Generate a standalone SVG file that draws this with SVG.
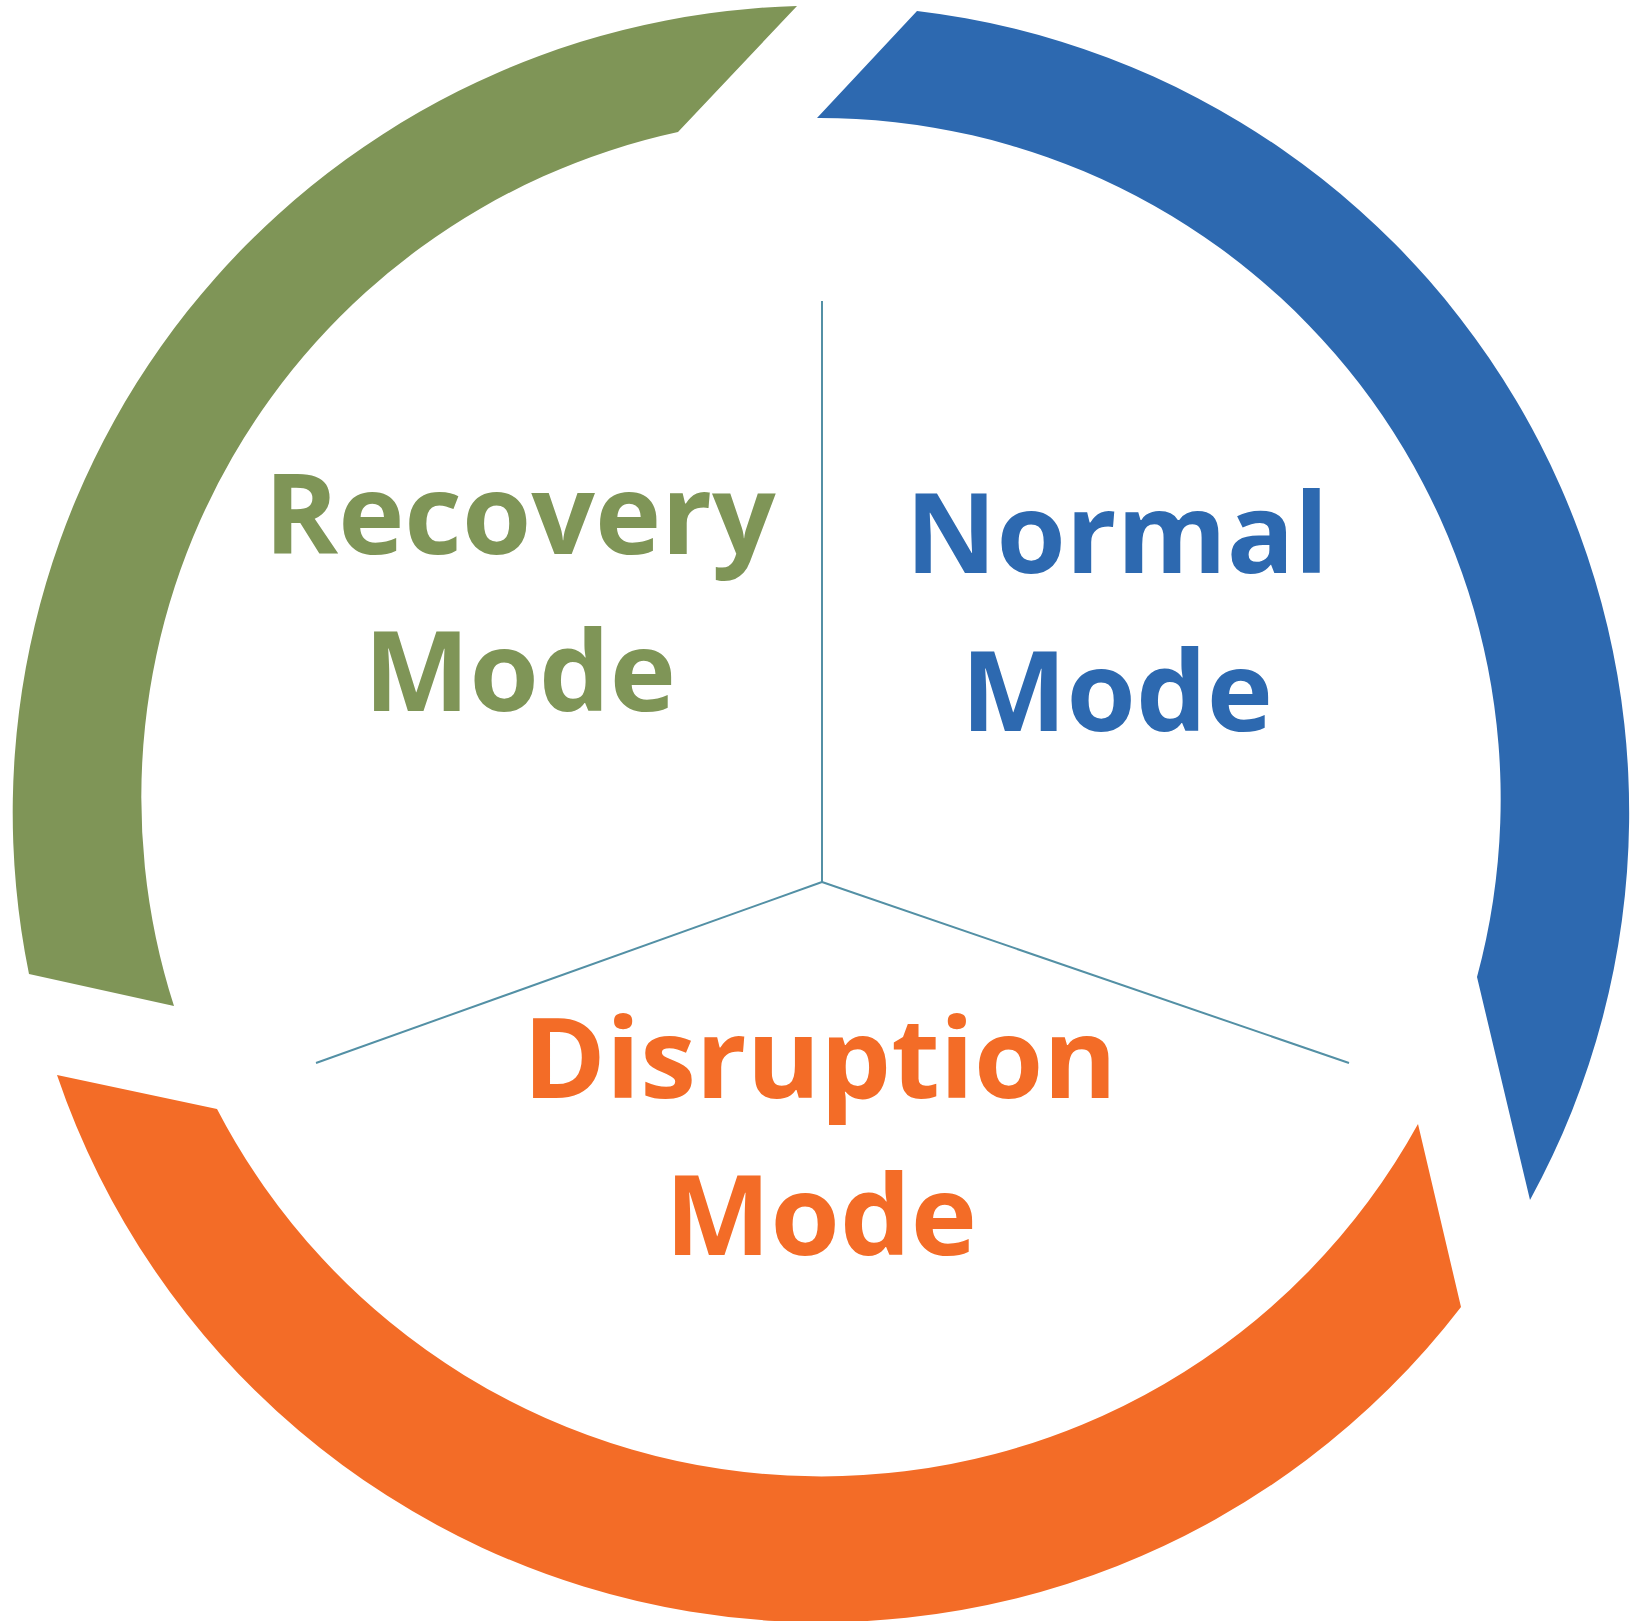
<svg xmlns="http://www.w3.org/2000/svg" width="1632" height="1621" viewBox="0 0 1632 1621">
<style>
.lbl{font-family:"Open Sans","Noto Sans","Liberation Sans",sans-serif;font-weight:700;font-size:112px;text-anchor:middle}
.conn{stroke:#5390A5;stroke-width:2;fill:none}
</style>
<rect width="1632" height="1621" fill="#ffffff"/>
<g id="connectors">
<line class="conn" x1="822" y1="301" x2="822" y2="882"/>
<line class="conn" x1="822" y1="882" x2="316" y2="1063"/>
<line class="conn" x1="822" y1="882" x2="1349" y2="1063"/>
</g>
<g id="recovery">
<path fill="#7F9557" d="M 29,974 A 807 807 0 0 1 797,6 L 678,132 A 681 681 0 0 0 174,1006 Z"/>
<text class="lbl" fill="#7F9557" x="520" y="554">Recovery</text>
<text class="lbl" fill="#7F9557" x="520" y="711">Mode</text>
</g>
<g id="normal">
<path fill="#2D69B0" d="M 917,11 A 807 807 0 0 1 1530,1200 L 1477,977 A 681 681 0 0 0 817,118 Z"/>
<text class="lbl" fill="#2D69B0" x="1117" y="573">Normal</text>
<text class="lbl" fill="#2D69B0" x="1117" y="731">Mode</text>
</g>
<g id="disruption">
<path fill="#F36C27" d="M 1461,1307 A 807 807 0 0 1 57,1075 L 217,1109 A 681 681 0 0 0 1418,1124 Z"/>
<text class="lbl" fill="#F36C27" x="820" y="1098">Disruption</text>
<text class="lbl" fill="#F36C27" x="821" y="1255">Mode</text>
</g>
</svg>
